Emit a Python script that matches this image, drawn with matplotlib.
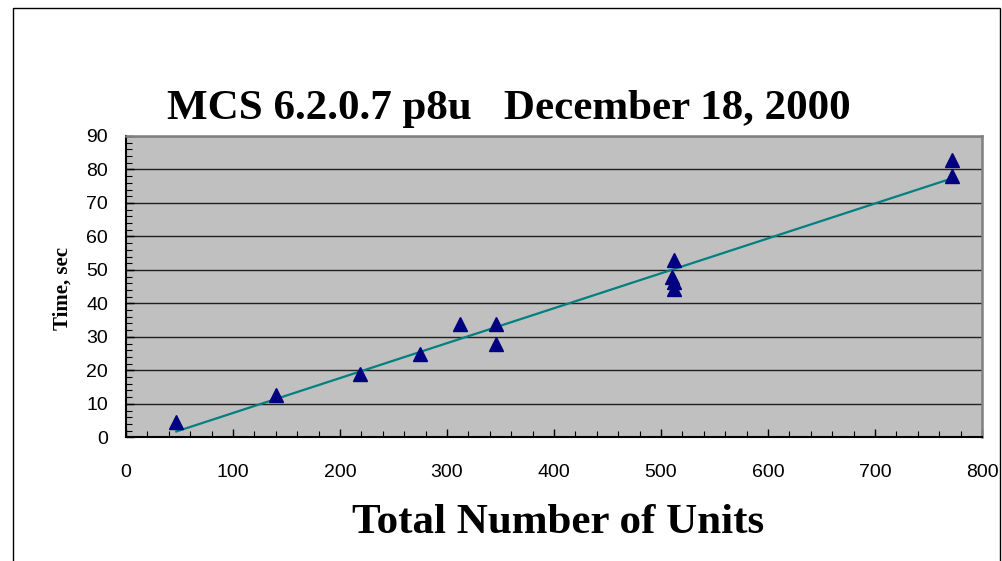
import numpy as np
from matplotlib import pyplot as plt
from matplotlib.patches import Rectangle
from matplotlib.ticker import MultipleLocator

# Data (units vs. time in seconds)
units = [47, 140, 219, 275, 312, 346, 346, 512, 510, 512, 512, 772, 772]
time_sec = [4.6, 12.6, 18.9, 24.9, 33.8, 33.8, 27.9, 52.9, 48.0, 46.5, 44.3, 82.8, 78.0]

TITLE = "MCS 6.2.0.7 p8u   December 18, 2000"
XLABEL = "Total Number of Units"
YLABEL = "Time, sec"

W, H = 1002, 561
fig = plt.figure(figsize=(W / 100, H / 100), dpi=100)
fig.patch.set_facecolor("white")

# outer chart frame
fig.patches.append(Rectangle((13 / W, -0.01), (1000 - 13) / W, 1 - 8 / H + 0.01,
                             transform=fig.transFigure, fill=False,
                             edgecolor="black", linewidth=1.0))

ax = fig.add_axes([126 / W, 1 - 437.3 / H, (982 - 126) / W, (437.3 - 136) / H])
ax.set_facecolor("#C0C0C0")

# linear trend through the data
x = np.array(units, dtype=float)
y = np.array(time_sec, dtype=float)
slope, intercept = np.polyfit(x, y, 1)
xt = np.array([x.min(), x.max()])
ax.plot(xt, slope * xt + intercept, color="#008080", linewidth=1.6, zorder=3)

ax.plot(units, time_sec, linestyle="none", marker="^", markersize=10.5,
        color="#000080", markeredgecolor="#000080", zorder=4)

ax.set_xlim(0, 800)
ax.set_ylim(0, 90)
ax.xaxis.set_major_locator(MultipleLocator(100))
ax.xaxis.set_minor_locator(MultipleLocator(20))
ax.yaxis.set_major_locator(MultipleLocator(10))
ax.yaxis.set_minor_locator(MultipleLocator(2))

ax.grid(axis="y", which="major", color="#202020", linewidth=1.0)
ax.set_axisbelow(True)

ax.tick_params(which="both", direction="in", top=False, right=False, color="black")
ax.tick_params(which="major", length=6, width=1.0)
ax.tick_params(which="minor", length=4, width=0.8)
ax.tick_params(axis="y", which="major", pad=13, labelsize=14)
ax.tick_params(axis="x", which="major", pad=19, labelsize=14)
for lab in ax.get_xticklabels() + ax.get_yticklabels():
    lab.set_fontfamily("Liberation Sans")

for side in ("left", "bottom"):
    ax.spines[side].set_color("black")
    ax.spines[side].set_linewidth(1.5)
for side in ("top", "right"):
    ax.spines[side].set_color("#808080")
    ax.spines[side].set_linewidth(1.8)

fig.text(509 / W, 1 - 109 / H, TITLE, ha="center", va="center",
         family="Liberation Serif", fontweight="bold", fontsize=31)
fig.text(558 / W, 1 - 523 / H, XLABEL, ha="center", va="center",
         family="Liberation Serif", fontweight="bold", fontsize=31)
fig.text(63 / W, 1 - 288 / H, YLABEL, ha="center", va="center", rotation=90,
         family="Liberation Serif", fontweight="bold", fontsize=15)

plt.savefig("out.png", dpi=100)
plt.close()
